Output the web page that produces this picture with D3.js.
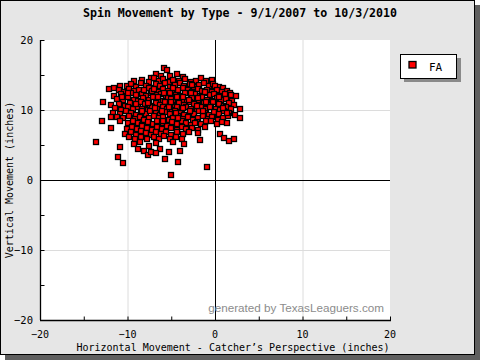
<!DOCTYPE html>
<html><head><meta charset="utf-8">
<script src="https://cdn.jsdelivr.net/npm/d3@7"></script>
<style>body{margin:0;background:#fff;}svg{display:block;}</style>
</head><body>
<svg id="c" width="480" height="360"></svg>
<script>
const chartTitle = "Spin Movement by Type - 9/1/2007 to 10/3/2010";
const xAxisTitle = "Horizontal Movement - Catcher\u2019s Perspective (inches)";
const yAxisTitle = "Vertical Movement (inches)";
const seriesName = "FA";
const majorTicks = [-20, -10, 0, 10, 20];
const minorTicks = [-15, -5, 5, 15];
// [horizontal, vertical] movement
const faPitches = [
[-6.7,15.1],[-5.8,16.0],[-5.45,15.7],[-4.3,15.2],[-6.2,14.9],[-5.1,14.8],[-7.3,14.6],[-3.7,14.7],
[-9.3,14.1],[-8.4,14.3],[-7.6,14.0],[-7.0,14.5],[-6.4,14.2],[-5.9,14.4],[-5.3,14.0],[-4.8,14.3],[-4.1,14.1],[-3.4,14.4],[-2.8,14.0],[-2.2,14.2],[-1.6,14.5],[-1.0,14.1],[-0.4,14.3],
[-12.1,13.0],[-11.5,13.1],[-10.8,13.5],[-10.1,13.4],[-9.6,13.7],[-9.0,13.3],[-8.5,13.8],[-7.9,13.5],[-7.4,13.2],[-6.8,13.7],[-6.3,13.4],[-5.7,13.8],[-5.2,13.3],[-4.6,13.6],[-4.0,13.9],[-3.5,13.4],[-2.9,13.7],[-2.4,13.3],[-1.8,13.6],[-1.3,13.9],[-0.7,13.4],[-0.2,13.7],[0.4,13.3],[0.95,13.2],[1.4,12.7],[0.0,13.5],
[-11.0,12.8],[-10.4,12.6],[-9.8,13.0],[-9.3,12.7],[-8.7,12.9],[-8.1,12.6],[-7.6,13.1],[-7.0,12.8],[-6.5,12.6],[-5.9,13.0],[-5.4,12.7],[-4.8,12.9],[-4.3,12.6],[-3.7,13.1],[-3.1,12.8],[-2.6,12.6],[-2.0,13.0],[-1.5,12.7],[-0.9,12.9],[-0.3,12.6],[0.2,12.9],[0.8,12.6],[1.7,12.5],
[-11.6,12.0],[-10.7,12.3],[-10.2,12.0],[-9.6,12.4],[-9.0,12.1],[-8.4,12.3],[-7.9,12.0],[-7.3,12.4],[-6.8,12.1],[-6.2,12.3],[-5.6,12.0],[-5.1,12.4],[-4.5,12.2],[-4.0,12.0],[-3.4,12.4],[-2.8,12.1],[-2.3,12.3],[-1.7,12.0],[-1.2,12.4],[-0.6,12.1],[-0.1,12.3],[0.5,12.0],[1.1,12.3],[1.8,12.1],[2.4,12.0],
[-11.2,11.6],[-10.5,11.4],[-9.9,11.8],[-9.3,11.5],[-8.8,11.3],[-8.2,11.7],[-7.6,11.4],[-7.1,11.8],[-6.5,11.5],[-6.0,11.3],[-5.4,11.7],[-4.8,11.4],[-4.3,11.8],[-3.7,11.5],[-3.2,11.3],[-2.6,11.7],[-2.0,11.4],[-1.5,11.8],[-0.9,11.5],[-0.4,11.3],[0.2,11.7],[0.7,11.4],[1.3,11.6],[1.9,11.3],
[-12.8,11.1],[-11.9,10.7],[-11.0,10.9],[-10.3,10.6],[-9.7,11.0],[-9.1,10.7],[-8.5,11.1],[-8.0,10.8],[-7.4,10.6],[-6.8,11.0],[-6.3,10.7],[-5.7,11.1],[-5.2,10.8],[-4.6,10.6],[-4.1,11.0],[-3.5,10.7],[-2.9,11.1],[-2.4,10.8],[-1.8,10.6],[-1.3,11.0],[-0.7,10.7],[-0.2,11.1],[0.4,10.8],[1.0,10.6],[1.6,11.0],[2.2,10.7],
[-11.4,10.3],[-10.7,10.0],[-10.0,10.4],[-9.4,10.1],[-8.8,10.5],[-8.3,10.2],[-7.7,10.0],[-7.2,10.4],[-6.6,10.1],[-6.0,10.5],[-5.5,10.2],[-4.9,10.0],[-4.4,10.4],[-3.8,10.1],[-3.3,10.5],[-2.7,10.2],[-2.1,10.0],[-1.6,10.4],[-1.0,10.1],[-0.5,10.5],[0.1,10.2],[0.6,10.0],[1.2,10.4],[1.8,10.1],[2.9,10.1],
[-11.7,9.6],[-10.9,9.4],[-10.2,9.8],[-9.6,9.5],[-9.0,9.3],[-8.5,9.7],[-7.9,9.4],[-7.4,9.8],[-6.8,9.5],[-6.3,9.3],[-5.7,9.7],[-5.1,9.4],[-4.6,9.8],[-4.0,9.5],[-3.5,9.3],[-2.9,9.7],[-2.4,9.4],[-1.8,9.8],[-1.2,9.5],[-0.7,9.3],[-0.1,9.7],[0.5,9.4],[1.0,9.8],[1.6,9.5],[2.3,9.3],
[-11.9,9.0],[-11.2,9.0],[-10.5,8.8],[-9.8,9.1],[-9.2,8.7],[-8.6,9.0],[-8.1,8.6],[-7.5,8.9],[-7.0,9.2],[-6.4,8.8],[-5.9,9.0],[-5.3,8.6],[-4.8,8.9],[-4.2,9.2],[-3.6,8.7],[-3.1,9.0],[-2.5,8.6],[-2.0,8.9],[-1.4,9.2],[-0.8,8.7],[-0.3,9.0],[0.3,8.6],[0.9,8.9],[1.5,9.1],[2.9,8.8],
[-12.9,8.4],[-10.8,8.4],[-10.0,8.1],[-9.4,8.5],[-8.8,8.2],[-8.3,7.9],[-7.7,8.3],[-7.1,8.0],[-6.6,8.4],[-6.0,8.1],[-5.5,7.9],[-4.9,8.3],[-4.4,8.0],[-3.8,8.4],[-3.3,8.1],[-2.7,7.9],[-2.1,8.3],[-1.6,8.0],[-1.0,8.4],[0.2,8.0],[0.8,8.3],[1.4,8.1],
[-11.9,7.4],[-10.1,7.3],[-9.5,7.6],[-8.9,7.3],[-8.3,7.7],[-7.8,7.4],[-7.2,7.2],[-6.6,7.6],[-6.1,7.3],[-5.5,7.7],[-5.0,7.4],[-4.4,7.2],[-3.8,7.6],[-3.3,7.3],[-2.6,7.5],[-1.9,7.2],[-1.2,7.6],
[-10.3,6.6],[-9.6,6.8],[-9.0,6.5],[-8.5,7.0],[-7.9,6.7],[-7.3,6.5],[-6.8,6.9],[-6.2,6.6],[-5.6,6.9],[-5.0,6.5],[-4.3,6.8],[-3.7,6.6],[-3.0,6.9],[-1.9,6.7],[0.6,6.6],[1.0,6.0],
[-9.8,6.1],[-9.1,5.9],[-8.5,6.2],[-7.8,5.8],[-7.0,6.1],[-6.4,5.9],[-5.8,6.3],[-5.2,5.9],[-4.5,6.1],[-3.8,5.8],[-1.7,5.7],[1.6,5.6],[2.2,5.9],
[-13.6,5.4],[-9.3,5.2],[-8.6,5.5],[-7.5,4.9],[-6.8,5.3],[-4.8,5.4],[-3.5,5.1],
[-10.9,4.7],[-8.8,4.5],[-8.1,4.2],[-6.3,4.5],[-4.0,4.2],
[-11.05,3.3],[-10.5,2.5],[-7.7,3.6],[-7.3,3.95],[-6.7,3.9],[-5.3,3.95],[-5.7,3.0],[-4.2,2.6],[-5.0,0.7],[-0.9,1.9],
[-7.2,12.7],[-6.5,11.9],[-5.8,12.5],[-5.0,11.6],[-4.2,12.8],[-3.6,11.9],[-2.7,12.5],[-1.9,11.7],[-1.1,12.6],[-6.9,10.3],[-6.1,9.9],[-5.3,10.4],[-4.5,9.6],[-3.7,10.3],[-2.9,9.9],[-2.1,10.6],[-1.4,9.9],[-0.6,10.4],[-7.7,11.0],[-5.0,11.2],[-3.0,11.5],[-1.0,11.2],[0.5,11.9],[-8.4,9.9],[-6.0,8.5],[-4.2,8.8],[-2.3,8.1],[-0.5,8.5],[-7.0,13.0],[-4.8,13.2],[-2.6,13.6],[-9.0,10.9],[-10.6,11.8],[-9.9,12.5],[-8.1,12.9],[0.9,10.3],[1.4,9.6]
];

const svg = d3.select("#c");
const fontMono = "'DejaVu Sans Mono', 'Liberation Mono', monospace";

// frame with drop shadow
svg.append("rect").attr("x",5).attr("y",5).attr("width",475).attr("height",355).attr("fill","#5f5f5f");
svg.append("rect").attr("x",0.5).attr("y",0.5).attr("width",474).attr("height",354)
  .attr("fill","#e6e6e6").attr("stroke","#000").attr("stroke-width",1);

const x = d3.scaleLinear().domain([-20,20]).range([40,390]);
const y = d3.scaleLinear().domain([-20,20]).range([320,40]);

// plot area
svg.append("rect").attr("x",x(-20)).attr("y",y(20)).attr("width",x(20)-x(-20)).attr("height",y(-20)-y(20)).attr("fill","#fff");

// gridlines at ±10
const grid = svg.append("g");
[-10,10].forEach(v=>{
  grid.append("line").attr("x1",x(v)+0.5).attr("x2",x(v)+0.5).attr("y1",y(20)).attr("y2",y(-20)).attr("stroke","#dcdcdc");
  grid.append("line").attr("y1",Math.round(y(v))+0.5).attr("y2",Math.round(y(v))+0.5).attr("x1",x(-20)).attr("x2",x(20)).attr("stroke","#dcdcdc");
});
// zero lines
grid.append("line").attr("x1",Math.round(x(0))+0.5).attr("x2",Math.round(x(0))+0.5).attr("y1",y(20)).attr("y2",y(-20)).attr("stroke","#000");
grid.append("line").attr("y1",Math.round(y(0))+0.5).attr("y2",Math.round(y(0))+0.5).attr("x1",x(-20)).attr("x2",x(20)).attr("stroke","#000");

// points
svg.append("g").selectAll("rect").data(faPitches).join("rect")
  .attr("x",d=>Math.round(x(d[0]))-2.5).attr("y",d=>Math.round(y(d[1]))-2.5)
  .attr("width",5).attr("height",5)
  .attr("fill","#ff0000").attr("stroke","#000").attr("stroke-width",1.3);

// axes (ticks pointing inward)
const allTicks = majorTicks.concat(minorTicks);
const xAxis = d3.axisTop(x).tickValues(allTicks).tickSize(4).tickFormat("");
const yAxis = d3.axisRight(y).tickValues(allTicks).tickSize(4).tickFormat("");
const gx = svg.append("g").attr("transform",`translate(0,${y(-20)+0.5})`).call(xAxis);
const gy = svg.append("g").attr("transform",`translate(${x(-20)+0.5},0)`).call(yAxis);
[gx,gy].forEach(g=>{ g.select(".domain").attr("stroke","#000").attr("stroke-width",1.3); g.selectAll(".tick line").attr("stroke","#000"); });
gx.select(".domain").attr("d",`M${x(-20)},0H${x(20)+1}`);
gy.select(".domain").attr("d",`M0,${y(20)}V${y(-20)}`);

// tick labels
const fmt = d => d<0 ? "\u2212"+Math.abs(d) : String(d);
svg.append("g").selectAll("text").data(majorTicks).join("text")
  .attr("x",d=>x(d)).attr("y",338).attr("text-anchor","middle")
  .attr("font-family",fontMono).attr("font-size",10).attr("fill","#000").text(fmt);
svg.append("g").selectAll("text").data(majorTicks).join("text")
  .attr("x",33).attr("y",d=>y(d)+4).attr("text-anchor","end")
  .attr("font-family",fontMono).attr("font-size",10.5).attr("fill","#000").text(fmt);

// titles
svg.append("text").attr("x",240).attr("y",17).attr("text-anchor","middle")
  .attr("font-family",fontMono).attr("font-weight","bold").attr("font-size",11.6).text(chartTitle);
svg.append("text").attr("x",233).attr("y",350.5).attr("text-anchor","middle")
  .attr("font-family",fontMono).attr("font-size",10).text(xAxisTitle);
svg.append("text").attr("transform","translate(13,180) rotate(-90)").attr("text-anchor","middle")
  .attr("font-family",fontMono).attr("font-size",10).text(yAxisTitle);

// watermark
svg.append("text").attr("x",384).attr("y",312).attr("text-anchor","end")
  .attr("font-family","'Liberation Sans', Arial, sans-serif").attr("font-size",11.7).attr("fill","#8c8c8c")
  .text("generated by TexasLeaguers.com");

// legend
const lg = svg.append("g");
lg.append("rect").attr("x",404).attr("y",58).attr("width",57).attr("height",24).attr("fill","#8a8a8a");
lg.append("rect").attr("x",400.5).attr("y",54.5).attr("width",56).attr("height",24).attr("fill","#fff").attr("stroke","#000");
lg.append("rect").attr("x",409).attr("y",61.5).attr("width",7).attr("height",6.5).attr("fill","#ff0000").attr("stroke","#000").attr("stroke-width",1.3);
lg.append("text").attr("x",429).attr("y",71).attr("font-family",fontMono).attr("font-size",11).text(seriesName);
</script>
</body></html>
